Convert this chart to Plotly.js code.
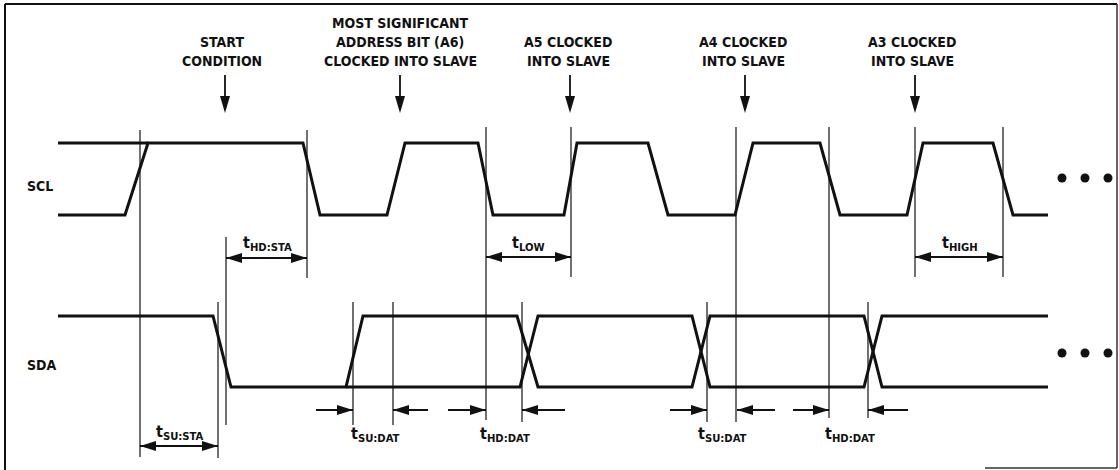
<!DOCTYPE html>
<html>
<head>
<meta charset="utf-8">
<script src="https://cdn.plot.ly/plotly-3.0.1.min.js"></script>
<style>html,body{margin:0;padding:0;background:#fff;}#chart{width:1119px;height:470px;}</style>
</head>
<body>
<div id="chart"></div>
<script>
// ---- Timing data (time axis in diagram units, levels 0 = low, 1 = high) ----
const SCL_T = [58,125,148,303,320,387,405,478,493,564,577,648,668,735,753,820,840,907,923,993,1013,1048];
const SCL_V = [0,0,1,1,0,0,1,1,0,0,1,1,0,0,1,1,0,0,1,1,0,0];
const SCL_IDLE_T = [58,148];
const SCL_IDLE_V = [1,1];
const SDA_A_T = [58,213,231,346,363,517,538,692,710,864,882,1048];
const SDA_A_V = [1,1,0,0,1,1,0,0,1,1,0,0];
const SDA_B_T = [346,520,538,692,710,864,882,1048];
const SDA_B_V = [0,0,1,1,0,0,1,1];

// reference (timing) lines: x, top, bottom
const REF_X   = [140,307,486,571,736,829,915,1003,218,226,353,393,522,707,868];
const REF_TOP = [130,130,127,127,127,127,127,127,302,237,302,302,302,302,302];
const REF_BOT = [457,278,420,277,422,418,277,277,458,425,425,425,422,422,418];

// double-headed interval arrows
const SPAN_FROM = [226,486,915,140];
const SPAN_TO   = [307,571,1003,218];
const SPAN_Y    = [258,257,257,446];
const SPAN_LBL  = ['t<sub>HD:STA</sub>','t<sub>LOW</sub>','t<sub>HIGH</sub>','t<sub>SU:STA</sub>'];
const SPAN_LBL_X = [267,528,960,180];
const SPAN_LBL_Y = [243,243,243,432];

// single pointer arrows (tail -> head)
const PTR_TAIL = [316,428,448,565,670,775,793,908];
const PTR_HEAD = [353,393,486,522,707,737,829,868];
const PTR_Y = 410;
const DAT_LBL = ['t<sub>SU:DAT</sub>','t<sub>HD:DAT</sub>','t<sub>SU:DAT</sub>','t<sub>HD:DAT</sub>'];
const DAT_LBL_X = [375,505,722,850];
const DAT_LBL_Y = 434;

// event callouts (one entry per text line)
const EVENT_LINES = [
  ['START','CONDITION'],
  ['MOST SIGNIFICANT','ADDRESS BIT (A6)','CLOCKED INTO SLAVE'],
  ['A5 CLOCKED','INTO SLAVE'],
  ['A4 CLOCKED','INTO SLAVE'],
  ['A3 CLOCKED','INTO SLAVE']
];
const EVENT_TXT_X = [222,400,568,743,912];
const EVENT_ARROW_X = [225,400,570,745,915];

const SIGNALS = ['SCL','SDA'];
const CONT_X = [1062,1085,1108];

// ---- styling / geometry ----
const SCL_LV = [215,143], SDA_LV = [387,316];
const SIG_LBL_Y = [186,365];
const CONT_Y = [178,353];
const INK = '#111';
const FONT = 'Liberation Sans Narrow, DejaVu Sans Condensed, Arial Narrow, sans-serif';
const LINE_GAP = 19, LAST_LINE_Y = 61;

const traces = [];
function wave(t, v, lv){
  traces.push({x:t, y:v.map(k=>lv[k]), mode:'lines', line:{color:INK,width:3}, hoverinfo:'skip'});
}
wave(SCL_T, SCL_V, SCL_LV);
wave(SCL_IDLE_T, SCL_IDLE_V, SCL_LV);
wave(SDA_A_T, SDA_A_V, SDA_LV);
wave(SDA_B_T, SDA_B_V, SDA_LV);

// reference lines
const rx=[], ry=[];
REF_X.forEach((x,i)=>{rx.push(x,x,null); ry.push(REF_TOP[i],REF_BOT[i],null);});
traces.push({x:rx,y:ry,mode:'lines',line:{color:INK,width:1.2},hoverinfo:'skip'});

// arrow shafts
const sx=[], sy=[];
SPAN_FROM.forEach((a,i)=>{sx.push(a,SPAN_TO[i],null); sy.push(SPAN_Y[i],SPAN_Y[i],null);});
PTR_TAIL.forEach((a,i)=>{sx.push(a,PTR_HEAD[i],null); sy.push(PTR_Y,PTR_Y,null);});
EVENT_ARROW_X.forEach(x=>{sx.push(x,x,null); sy.push(75,100,null);});
traces.push({x:sx,y:sy,mode:'lines',line:{color:INK,width:1.8},hoverinfo:'skip'});

// continuation dots
SIGNALS.forEach((s,i)=>{
  traces.push({x:CONT_X,y:CONT_X.map(()=>CONT_Y[i]),mode:'markers',marker:{color:INK,size:9},hoverinfo:'skip'});
});

// arrow heads as shapes in data coordinates
const shapes=[];
const HL=16, HW=5;
function headH(tipx, y, dir){ // dir +1 points right, -1 left
  const b = tipx - dir*HL;
  shapes.push({type:'path',xref:'x',yref:'y',path:`M${tipx},${y} L${b},${y-HW} L${b},${y+HW} Z`,fillcolor:INK,line:{width:0}});
}
function headV(x, tipy){
  shapes.push({type:'path',xref:'x',yref:'y',path:`M${x},${tipy} L${x-5},${tipy-17} L${x+5},${tipy-17} Z`,fillcolor:INK,line:{width:0}});
}
SPAN_FROM.forEach((a,i)=>{headH(a,SPAN_Y[i],-1); headH(SPAN_TO[i],SPAN_Y[i],1);});
PTR_TAIL.forEach((a,i)=>{headH(PTR_HEAD[i],PTR_Y,Math.sign(PTR_HEAD[i]-a));});
EVENT_ARROW_X.forEach(x=>headV(x,113));

// frame
const fl = {color:INK,width:2};
shapes.push({type:'line',xref:'x',yref:'y',x0:5,x1:1117,y0:4,y1:4,line:fl});
shapes.push({type:'line',xref:'x',yref:'y',x0:5,x1:5,y0:4,y1:470,line:fl});
shapes.push({type:'line',xref:'x',yref:'y',x0:1117,x1:1117,y0:4,y1:468,line:{color:'#333',width:1.5}});
shapes.push({type:'line',xref:'x',yref:'y',x0:985,x1:1117,y0:468,y1:468,line:{color:'#333',width:1.5}});

const annotations=[];
const tf = {family:FONT,size:14,color:INK,weight:'bold'};
EVENT_LINES.forEach((lines,i)=>{
  const n = lines.length;
  lines.forEach((t,j)=>annotations.push({x:EVENT_TXT_X[i],y:LAST_LINE_Y-(n-1-j)*LINE_GAP,xref:'x',yref:'y',text:t,showarrow:false,xanchor:'center',yanchor:'middle',font:tf}));
});
SIGNALS.forEach((s,i)=>annotations.push({x:25,y:SIG_LBL_Y[i],xref:'x',yref:'y',text:s,showarrow:false,xanchor:'left',yanchor:'middle',font:{family:FONT,size:14,color:INK,weight:'bold'}}));
const lf = {family:FONT,size:16,color:INK,weight:'bold'};
SPAN_LBL.forEach((t,i)=>annotations.push({x:SPAN_LBL_X[i],y:SPAN_LBL_Y[i],xref:'x',yref:'y',text:t,showarrow:false,xanchor:'center',yanchor:'middle',font:lf}));
DAT_LBL.forEach((t,i)=>annotations.push({x:DAT_LBL_X[i],y:DAT_LBL_Y,xref:'x',yref:'y',text:t,showarrow:false,xanchor:'center',yanchor:'middle',font:lf}));

const layout = {
  width:1119, height:470, margin:{l:0,r:0,t:0,b:0},
  paper_bgcolor:'#fff', plot_bgcolor:'#fff', showlegend:false,
  xaxis:{range:[0,1119],visible:false,fixedrange:true},
  yaxis:{range:[470,0],visible:false,fixedrange:true},
  shapes, annotations
};
Plotly.newPlot('chart', traces, layout, {staticPlot:true});
</script>
</body>
</html>
